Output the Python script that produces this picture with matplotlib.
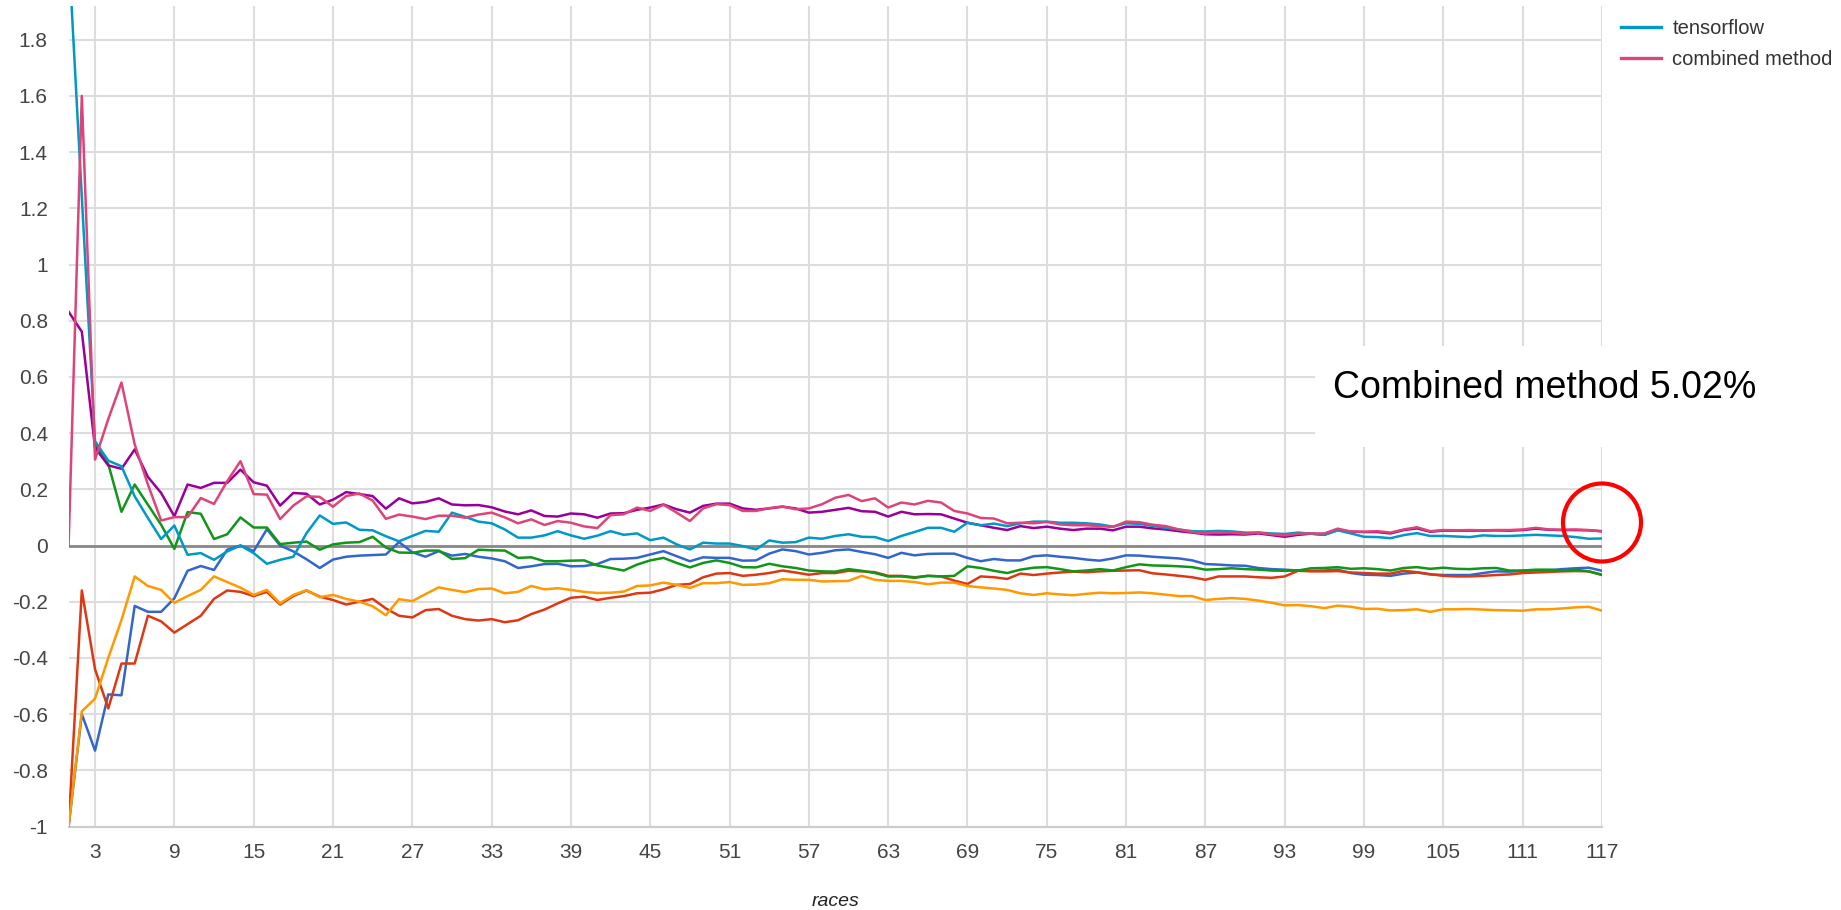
import numpy as np
import matplotlib
matplotlib.use("Agg")
import matplotlib.pyplot as plt
from matplotlib.lines import Line2D
from matplotlib.patches import Rectangle, Ellipse
from matplotlib.ticker import FuncFormatter

plt.rcParams['font.family'] = ['Liberation Sans', 'DejaVu Sans']

races = np.arange(1, 118)

blue = [-1.0, -0.6, -0.73, -0.53, -0.533, -0.215, -0.236, -0.236, -0.188, -0.09,
        -0.073, -0.087, -0.015, 0.0, -0.02, 0.058, 0.0, -0.021, -0.049, -0.08,
        -0.05, -0.04, -0.036, -0.034, -0.032, 0.012, -0.024, -0.04, -0.02, -0.036,
        -0.03, -0.04, -0.046, -0.056, -0.08, -0.074, -0.066, -0.065, -0.074, -0.073,
        -0.066, -0.048, -0.047, -0.044, -0.032, -0.02, -0.038, -0.056, -0.042, -0.044,
        -0.044, -0.054, -0.053, -0.029, -0.014, -0.02, -0.032, -0.026, -0.017, -0.014,
        -0.023, -0.031, -0.044, -0.026, -0.035, -0.03, -0.029, -0.029, -0.044, -0.056,
        -0.048, -0.053, -0.053, -0.038, -0.035, -0.04, -0.044, -0.05, -0.054, -0.046,
        -0.035, -0.036, -0.04, -0.043, -0.046, -0.053, -0.066, -0.068, -0.071, -0.072,
        -0.08, -0.084, -0.086, -0.089, -0.09, -0.089, -0.086, -0.098, -0.104, -0.105,
        -0.108, -0.1, -0.096, -0.103, -0.105, -0.105, -0.105, -0.098, -0.092, -0.093,
        -0.09, -0.089, -0.088, -0.084, -0.081, -0.079, -0.09]

red = [-1.0, -0.16, -0.44, -0.58, -0.42, -0.42, -0.25, -0.27, -0.31, -0.28,
       -0.25, -0.19, -0.16, -0.165, -0.18, -0.165, -0.21, -0.18, -0.16, -0.182,
       -0.194, -0.21, -0.2, -0.19, -0.224, -0.25, -0.256, -0.23, -0.226, -0.25,
       -0.262, -0.267, -0.262, -0.273, -0.266, -0.244, -0.228, -0.206, -0.186, -0.182,
       -0.194, -0.186, -0.18, -0.17, -0.168, -0.156, -0.14, -0.137, -0.113, -0.10,
       -0.098, -0.108, -0.104, -0.098, -0.089, -0.096, -0.104, -0.098, -0.098, -0.09,
       -0.092, -0.095, -0.108, -0.108, -0.113, -0.108, -0.11, -0.125, -0.137, -0.11,
       -0.113, -0.119, -0.10, -0.105, -0.10, -0.096, -0.093, -0.095, -0.092, -0.09,
       -0.089, -0.088, -0.099, -0.103, -0.108, -0.113, -0.122, -0.11, -0.11, -0.11,
       -0.113, -0.115, -0.11, -0.09, -0.092, -0.092, -0.091, -0.096, -0.098, -0.10,
       -0.10, -0.09, -0.095, -0.102, -0.108, -0.11, -0.11, -0.108, -0.105, -0.103,
       -0.098, -0.096, -0.094, -0.092, -0.091, -0.092, -0.105]

orange = [-1.0, -0.59, -0.545, -0.40, -0.265, -0.11, -0.144, -0.158, -0.204, -0.18,
          -0.158, -0.11, -0.13, -0.15, -0.176, -0.158, -0.206, -0.176, -0.159, -0.184,
          -0.176, -0.19, -0.2, -0.216, -0.248, -0.191, -0.198, -0.173, -0.149, -0.158,
          -0.166, -0.155, -0.153, -0.17, -0.165, -0.144, -0.156, -0.152, -0.158, -0.165,
          -0.169, -0.168, -0.164, -0.144, -0.142, -0.132, -0.14, -0.151, -0.134, -0.134,
          -0.13, -0.14, -0.139, -0.134, -0.12, -0.122, -0.122, -0.128, -0.127, -0.126,
          -0.108, -0.122, -0.126, -0.126, -0.13, -0.138, -0.132, -0.132, -0.144, -0.149,
          -0.153, -0.158, -0.17, -0.176, -0.17, -0.174, -0.177, -0.172, -0.168, -0.17,
          -0.169, -0.167, -0.17, -0.175, -0.18, -0.18, -0.194, -0.19, -0.187, -0.19,
          -0.196, -0.204, -0.213, -0.212, -0.216, -0.223, -0.214, -0.218, -0.226, -0.225,
          -0.231, -0.23, -0.227, -0.236, -0.227, -0.227, -0.226, -0.228, -0.23, -0.231,
          -0.232, -0.227, -0.227, -0.224, -0.22, -0.218, -0.232]

green = [np.nan, np.nan, 0.36, 0.29, 0.12, 0.217, 0.145, 0.074, -0.012, 0.119,
         0.113, 0.023, 0.04, 0.1, 0.064, 0.064, 0.005, 0.01, 0.014, -0.015,
         0.004, 0.01, 0.012, 0.031, -0.007, -0.025, -0.026, -0.018, -0.018, -0.048,
         -0.045, -0.015, -0.017, -0.018, -0.044, -0.042, -0.056, -0.056, -0.054, -0.053,
         -0.071, -0.08, -0.089, -0.068, -0.053, -0.044, -0.062, -0.078, -0.062, -0.053,
         -0.062, -0.077, -0.078, -0.065, -0.074, -0.08, -0.089, -0.092, -0.093, -0.084,
         -0.09, -0.098, -0.11, -0.11, -0.115, -0.108, -0.11, -0.108, -0.074, -0.08,
         -0.09, -0.098, -0.086, -0.079, -0.077, -0.084, -0.092, -0.089, -0.084, -0.089,
         -0.077, -0.067, -0.071, -0.072, -0.074, -0.077, -0.086, -0.084, -0.081, -0.084,
         -0.086, -0.089, -0.09, -0.089, -0.081, -0.08, -0.077, -0.083, -0.081, -0.084,
         -0.089, -0.08, -0.077, -0.083, -0.079, -0.083, -0.084, -0.081, -0.08, -0.089,
         -0.089, -0.086, -0.086, -0.089, -0.086, -0.092, -0.104]

purple = [0.832, 0.761, 0.348, 0.285, 0.273, 0.342, 0.244, 0.187, 0.104, 0.217,
          0.205, 0.223, 0.223, 0.27, 0.225, 0.213, 0.142, 0.187, 0.184, 0.146,
          0.163, 0.19, 0.183, 0.176, 0.131, 0.168, 0.15, 0.155, 0.168, 0.146,
          0.143, 0.144, 0.136, 0.121, 0.111, 0.125, 0.105, 0.103, 0.114, 0.111,
          0.099, 0.114, 0.115, 0.127, 0.135, 0.146, 0.129, 0.117, 0.141, 0.149,
          0.149, 0.132, 0.127, 0.132, 0.138, 0.132, 0.117, 0.12, 0.127, 0.134,
          0.122, 0.12, 0.103, 0.12, 0.111, 0.112, 0.111, 0.096, 0.081, 0.072,
          0.063, 0.055, 0.069, 0.062, 0.067, 0.06, 0.055, 0.06, 0.06, 0.054,
          0.067, 0.067, 0.061, 0.057, 0.051, 0.046, 0.04, 0.039, 0.04, 0.039,
          0.043, 0.037, 0.031, 0.038, 0.042, 0.038, 0.055, 0.049, 0.048, 0.048,
          0.043, 0.055, 0.061, 0.049, 0.053, 0.053, 0.053, 0.053, 0.054, 0.053,
          0.055, 0.06, 0.056, 0.055, 0.055, 0.054, 0.051]

tensorflow = [2.12, 1.24, 0.371, 0.302, 0.282, 0.175, 0.098, 0.023, 0.071, -0.033,
              -0.027, -0.051, -0.021, 0.0, -0.027, -0.065, -0.051, -0.04, 0.044, 0.107,
              0.077, 0.082, 0.056, 0.054, 0.033, 0.015, 0.034, 0.052, 0.049, 0.117,
              0.102, 0.085, 0.079, 0.057, 0.028, 0.028, 0.036, 0.051, 0.036, 0.024,
              0.035, 0.051, 0.038, 0.043, 0.019, 0.028, 0.004, -0.014, 0.01, 0.007,
              0.007, -0.002, -0.014, 0.018, 0.01, 0.012, 0.028, 0.024, 0.034, 0.04,
              0.031, 0.03, 0.016, 0.034, 0.048, 0.063, 0.063, 0.049, 0.081, 0.072,
              0.078, 0.069, 0.079, 0.085, 0.085, 0.081, 0.081, 0.079, 0.075, 0.067,
              0.079, 0.077, 0.07, 0.063, 0.057, 0.051, 0.05, 0.052, 0.05, 0.046,
              0.046, 0.043, 0.041, 0.046, 0.042, 0.038, 0.054, 0.043, 0.031, 0.03,
              0.026, 0.037, 0.044, 0.034, 0.034, 0.032, 0.03, 0.036, 0.034, 0.034,
              0.036, 0.038, 0.036, 0.034, 0.03, 0.024, 0.025]

combined = [0.0, 1.6, 0.306, 0.45, 0.58, 0.36, 0.217, 0.089, 0.101, 0.101,
            0.169, 0.148, 0.229, 0.30, 0.183, 0.181, 0.094, 0.142, 0.175, 0.173,
            0.138, 0.176, 0.185, 0.16, 0.095, 0.11, 0.103, 0.094, 0.106, 0.106,
            0.099, 0.11, 0.117, 0.1, 0.079, 0.093, 0.073, 0.087, 0.081, 0.068,
            0.062, 0.108, 0.111, 0.135, 0.123, 0.145, 0.117, 0.087, 0.132, 0.147,
            0.144, 0.123, 0.123, 0.133, 0.139, 0.129, 0.132, 0.147, 0.17, 0.18,
            0.158, 0.168, 0.135, 0.153, 0.146, 0.159, 0.153, 0.123, 0.114, 0.098,
            0.096, 0.079, 0.081, 0.079, 0.084, 0.075, 0.072, 0.072, 0.069, 0.066,
            0.085, 0.083, 0.074, 0.069, 0.057, 0.048, 0.043, 0.048, 0.046, 0.042,
            0.046, 0.04, 0.036, 0.042, 0.043, 0.043, 0.06, 0.05, 0.049, 0.051,
            0.046, 0.057, 0.065, 0.051, 0.055, 0.054, 0.055, 0.054, 0.055, 0.055,
            0.057, 0.063, 0.057, 0.056, 0.057, 0.055, 0.050]

series = [blue, red, orange, green, purple, tensorflow, combined]
colors = ['#3366cc', '#dc3912', '#ff9900', '#109618', '#990099', '#0099c6', '#dd4477']
xticks = list(range(3, 118, 6))
yticks = [-1, -0.8, -0.6, -0.4, -0.2, 0, 0.2, 0.4, 0.6, 0.8, 1, 1.2, 1.4, 1.6, 1.8]

fig = plt.figure(figsize=(18.41, 9.10), dpi=100)
ax = fig.add_axes([68.6 / 1841, 1 - 826.5 / 910, (1602 - 68.6) / 1841, (826.5 - 6) / 910])

for s, c in zip(series, colors):
    ax.plot(races, s, color=c, lw=1.8, zorder=3)

ax.axhline(0, color='#888888', lw=2.0, zorder=2)

ax.set_xlim(1, 117)
ax.set_ylim(-1, 1.92)
ax.set_xticks(xticks)
ax.set_yticks(yticks)
ax.yaxis.set_major_formatter(FuncFormatter(lambda v, p: '%g' % round(v, 1)))
ax.grid(True, color='#dddddd', lw=1.5, zorder=0)
ax.set_axisbelow(True)
for side in ['top', 'left', 'right']:
    ax.spines[side].set_visible(False)
ax.spines['bottom'].set_color('#cccccc')
ax.spines['bottom'].set_linewidth(1.5)
ax.tick_params(length=0, labelsize=15, colors='#444444')
ax.tick_params(axis='y', pad=15)
ax.tick_params(axis='x', pad=12)
ax.set_xlabel('races', fontsize=14, style='italic', color='#222222', labelpad=22)

handles = [Line2D([], [], color=colors[5], lw=2.4), Line2D([], [], color=colors[6], lw=2.4)]
fig.legend(handles, ['tensorflow', 'combined method'], loc='upper left',
           bbox_to_anchor=(1603 / 1841, 1 - 1 / 910), frameon=False, fontsize=14.5,
           handlelength=2.0, handletextpad=0.55, labelspacing=0.6, labelcolor='#333333')

# pasted note with white background
fig.patches.append(Rectangle((1315 / 1841, 1 - 447 / 910), (1841 - 1315) / 1841, 101 / 910,
                             transform=fig.transFigure, facecolor='white', edgecolor='none', zorder=5))
fig.text(1333 / 1841, 1 - 388 / 910, 'Combined method 5.02%', fontsize=27,
         color='black', va='center', ha='left', zorder=6)
fig.patches.append(Ellipse((1602 / 1841, 1 - 522.5 / 910), 78 / 1841, 78 / 910,
                           transform=fig.transFigure, facecolor='none', edgecolor='#ff0000',
                           lw=3.0, zorder=6))

fig.savefig('out.png', dpi=100)
